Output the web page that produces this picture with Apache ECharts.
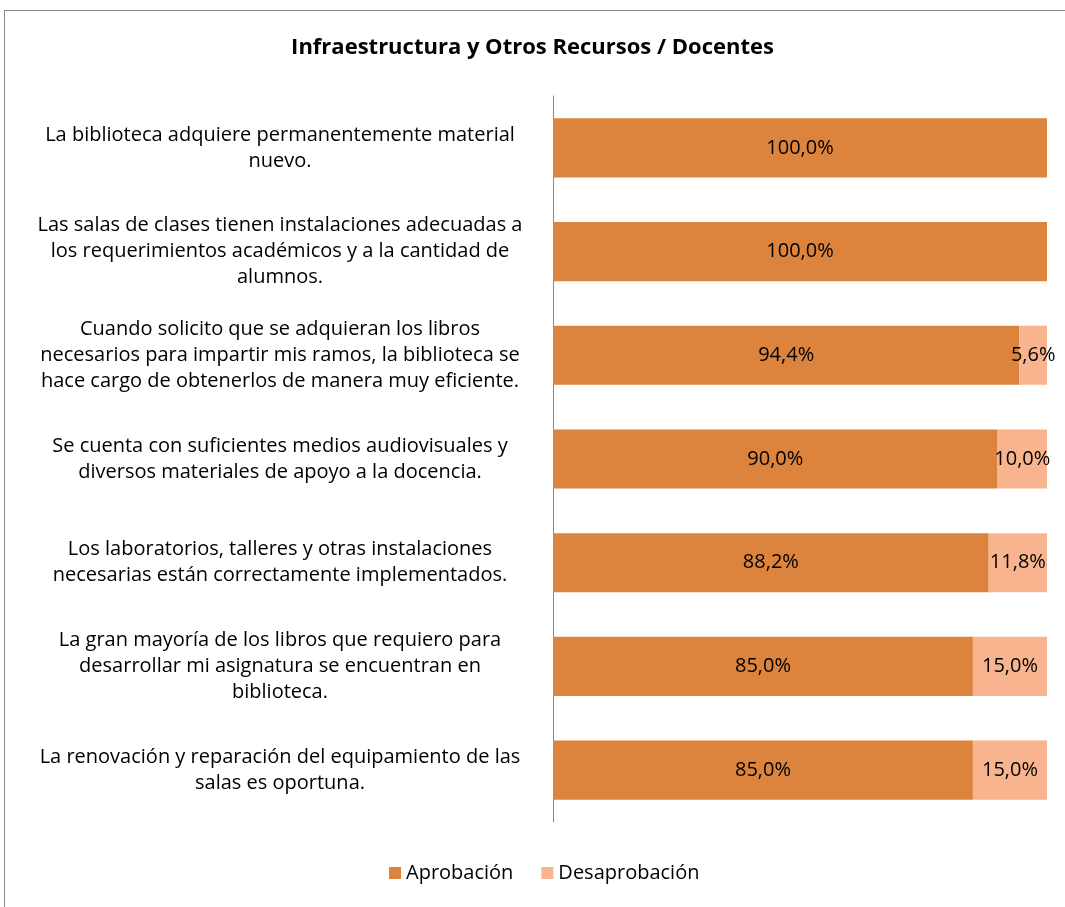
<!DOCTYPE html>
<html>
<head>
<meta charset="utf-8">
<script src="https://cdn.jsdelivr.net/npm/echarts@6/dist/echarts.min.js"></script>
<style>
  html, body { margin: 0; padding: 0; background: #fff; }
  #frame { position: absolute; left: 4px; top: 10px; width: 1100px; height: 920px;
           border-left: 1px solid #8a8a8a; border-top: 1px solid #8a8a8a; }
  #chart { position: absolute; left: 0; top: 0; width: 1065px; height: 907px; }
</style>
</head>
<body>
<div id="frame"></div>
<div id="chart"></div>
<script>
// ===== Infraestructura y Otros Recursos / Docentes =====

const categories = [
  'La biblioteca adquiere permanentemente material\nnuevo.',
  'Las salas de clases tienen instalaciones adecuadas a\nlos requerimientos académicos y a la cantidad de\nalumnos.',
  'Cuando solicito que se adquieran los libros\nnecesarios para impartir mis ramos, la biblioteca se\nhace cargo de obtenerlos de manera muy eficiente.',
  'Se cuenta con suficientes medios audiovisuales y\ndiversos materiales de apoyo a la docencia.',
  'Los laboratorios, talleres y otras instalaciones\nnecesarias están correctamente implementados.',
  'La gran mayoría de los libros que requiero para\ndesarrollar mi asignatura se encuentran en\nbiblioteca.',
  'La renovación y reparación del equipamiento de las\nsalas es oportuna.'
];
const aprobacion = [100, 100, 94.4, 90, 88.2, 85, 85];
const desaprobacion = [0, 0, 5.6, 10, 11.8, 15, 15];

const FONT = '"Open Sans", sans-serif';

function pct(p) {
  if (!p.value) return '';
  return p.value.toFixed(1).replace('.', ',') + '%';
}

function initChart() {
  const chartDom = document.getElementById('chart');
  const myChart = echarts.init(chartDom);

  const option = {
    animation: false,
    title: {
      text: 'Infraestructura y Otros Recursos / Docentes',
      left: 'center',
      top: 32,
      textStyle: { fontFamily: FONT, fontSize: 22, fontWeight: 'bold', color: '#000' }
    },
    legend: {
      bottom: 19,
      left: 384,
      icon: 'rect',
      itemWidth: 12,
      itemHeight: 12,
      itemGap: 28,
      textStyle: { fontFamily: FONT, fontSize: 20, color: '#000' },
      data: ['Aprobación', 'Desaprobación']
    },
    grid: { left: 553, right: 18, top: 96, bottom: 85, containLabel: false },
    xAxis: {
      type: 'value',
      min: 0,
      max: 100,
      show: false
    },
    yAxis: {
      type: 'category',
      inverse: true,
      data: categories,
      axisLine: { show: true, lineStyle: { color: '#868686', width: 1 } },
      axisTick: { show: false },
      axisLabel: {
        align: 'center',
        margin: 273,
        lineHeight: 26,
        fontFamily: FONT,
        fontSize: 20,
        color: '#000'
      }
    },
    series: [
      {
        name: 'Aprobación',
        type: 'bar',
        stack: 'total',
        barWidth: '57%',
        data: aprobacion,
        itemStyle: { color: '#dc843e' },
        label: { show: true, position: 'inside', formatter: pct,
                 fontFamily: FONT, fontSize: 20, color: '#000' }
      },
      {
        name: 'Desaprobación',
        type: 'bar',
        stack: 'total',
        data: desaprobacion,
        itemStyle: { color: '#f8b48f' },
        label: { show: true, position: 'inside', formatter: pct,
                 fontFamily: FONT, fontSize: 20, color: '#000' }
      }
    ]
  };

  myChart.setOption(option);
}

initChart();
</script>
</body>
</html>
